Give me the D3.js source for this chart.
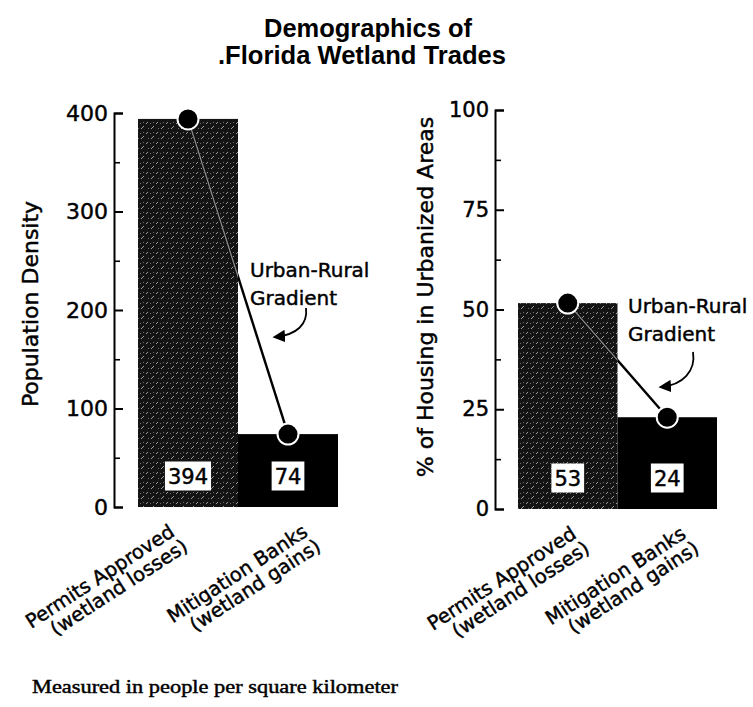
<!DOCTYPE html>
<html>
<head>
<meta charset="utf-8">
<script src="https://cdn.jsdelivr.net/npm/d3@7"></script>
<style>
  html, body { margin: 0; padding: 0; background: #fff; }
  svg { display: block; }
  .heavy { stroke: #000; stroke-width: 0.45px; paint-order: stroke; }
</style>
</head>
<body>
<script>
// ---------- DATA ----------
const titleLines = ["Demographics of", ".Florida Wetland Trades"];
const categoryLine1 = ["Permits Approved", "Mitigation Banks"];
const categoryLine2 = ["(wetland losses)", "(wetland gains)"];

const densityValues = [394, 74];          // bar heights (people / km²)
const densityLabels = ["394", "74"];
const densityTicks = [0, 100, 200, 300, 400];
const densityMinorTicks = [50, 150, 250, 350];

const housingValues = [51.6, 23];         // bar heights as drawn (%)
const housingLabels = ["53", "24"];       // printed values
const housingTicks = [0, 25, 50, 75, 100];
const housingMinorTicks = [12.5, 37.5, 62.5, 87.5];

const annotationLines = ["Urban-Rural", "Gradient"];
const footnote = "Measured in people per square kilometer";

// ---------- LAYOUT ----------
const W = 753, H = 707;
const svg = d3.select("body").append("svg").attr("width", W).attr("height", H);

const defs = svg.append("defs");
const pat = defs.append("pattern").attr("id", "tex")
  .attr("width", 10).attr("height", 10).attr("patternUnits", "userSpaceOnUse");
pat.append("rect").attr("width", 10).attr("height", 10).attr("fill", "#141414");
pat.append("path").attr("d", "M1,9 L4,6 M6,4 L8,2").attr("stroke", "#9c9c9c").attr("stroke-width", 1);
pat.append("path").attr("d", "M3,3 L4,2 M8,9 L9,8 M0,4 L1,3").attr("stroke", "#6e6e6e").attr("stroke-width", 1);

defs.append("marker").attr("id", "arrowhead")
  .attr("viewBox", "0 0 10 10").attr("refX", 8).attr("refY", 5)
  .attr("markerWidth", 7).attr("markerHeight", 7).attr("orient", "auto")
  .append("path").attr("d", "M0,0 L10,5 L0,10 Z").attr("fill", "#000");

// Title
const sans = "'DejaVu Sans', sans-serif";
svg.append("text").attr("x", 368).attr("y", 37).attr("text-anchor", "middle")
  .attr("font-family", "'Liberation Sans', Arial, sans-serif").attr("font-weight", "bold")
  .attr("font-size", 25).attr("textLength", 208).attr("lengthAdjust", "spacingAndGlyphs")
  .text(titleLines[0]);
svg.append("text").attr("x", 362).attr("y", 64).attr("text-anchor", "middle")
  .attr("font-family", "'Liberation Sans', Arial, sans-serif").attr("font-weight", "bold")
  .attr("font-size", 25).attr("textLength", 288).attr("lengthAdjust", "spacingAndGlyphs")
  .text(titleLines[1]);

const panels = [
  {
    values: densityValues, labels: densityLabels, domain: [0, 400],
    ticks: densityTicks, minor: densityMinorTicks,
    axisX: 114, xRange: [138, 338], yRange: [507, 113], tickFont: 22,
    yLabel: "Population Density", yLabelX: 38, yLabelY: 304,
    xLabelDx: [-12, 21],
    annot: { x: 250, y: 277, arrow: "M56,31 C58,47 47,58 25,60" }
  },
  {
    values: housingValues, labels: housingLabels, domain: [0, 100],
    ticks: housingTicks, minor: housingMinorTicks,
    axisX: 495, xRange: [518, 717], yRange: [509, 110], tickFont: 21,
    yLabel: "% of Housing in Urbanized Areas", yLabelX: 433, yLabelY: 297,
    xLabelDx: [10, 20],
    annot: { x: 628, y: 313, arrow: "M65,39 C68,58 55,72 33,74" }
  }
];

panels.forEach((p, pi) => {
  const g = svg.append("g");
  const y = d3.scaleLinear().domain(p.domain).range(p.yRange);
  const x = d3.scaleBand().domain(categoryLine1).range(p.xRange).padding(0);
  const bw = x.bandwidth();

  // Bars
  g.selectAll("rect.bar").data(p.values).join("rect").attr("class", "bar")
    .attr("x", (d, i) => x(categoryLine1[i]))
    .attr("y", d => y(d))
    .attr("width", bw)
    .attr("height", d => y(0) - y(d))
    .attr("fill", (d, i) => i === 0 ? "url(#tex)" : "#000");

  // clip for the line portion inside the textured bar
  const clipId = "clip" + pi;
  defs.append("clipPath").attr("id", clipId).append("rect")
    .attr("x", x(categoryLine1[0])).attr("y", y(p.values[0]))
    .attr("width", bw).attr("height", y(0) - y(p.values[0]));

  const pts = p.values.map((d, i) => [x(categoryLine1[i]) + bw / 2, y(d)]);
  const line = d3.line();
  g.append("path").attr("d", line(pts)).attr("fill", "none")
    .attr("stroke", "#000").attr("stroke-width", 2.4);
  g.append("path").attr("d", line(pts)).attr("fill", "none")
    .attr("stroke", "#8a8a8a").attr("stroke-width", 1.4)
    .attr("clip-path", `url(#${clipId})`);

  g.selectAll("circle.dot").data(pts).join("circle").attr("class", "dot")
    .attr("cx", d => d[0]).attr("cy", d => d[1]).attr("r", 10.5)
    .attr("fill", "#000").attr("stroke", "#fff").attr("stroke-width", 2);

  // Value labels in white boxes
  p.labels.forEach((lab, i) => {
    const cx = x(categoryLine1[i]) + bw / 2;
    const cy = y(0) - 31;
    const lg = g.append("g");
    const box = lg.append("rect").attr("fill", "#fff");
    const t = lg.append("text").attr("class", "heavy").attr("x", cx).attr("y", cy + 7.5)
      .attr("text-anchor", "middle").attr("font-family", sans)
      .attr("font-size", 21).attr("fill", "#000").text(lab);
    const bb = t.node().getBBox();
    box.attr("x", bb.x - 3).attr("y", cy - 14.5).attr("width", bb.width + 6).attr("height", 29);
  });

  // Axis (ticks pointing into plot)
  const axis = d3.axisLeft(y).tickValues(p.ticks).tickFormat(d3.format("d"))
    .tickSizeInner(-9).tickSizeOuter(-9).tickPadding(6);
  const ag = g.append("g").attr("transform", `translate(${p.axisX},0)`).call(axis);
  ag.select(".domain").attr("stroke", "#000").attr("stroke-width", 2);
  ag.selectAll(".tick line").attr("stroke", "#000").attr("stroke-width", 2);
  ag.selectAll(".tick text").attr("class", "heavy").attr("font-family", sans)
    .attr("font-size", p.tickFont).attr("fill", "#000");

  const minorAxis = d3.axisLeft(y).tickValues(p.minor).tickFormat("")
    .tickSizeInner(-6).tickSizeOuter(0);
  const mg = g.append("g").attr("transform", `translate(${p.axisX},0)`).call(minorAxis);
  mg.select(".domain").remove();
  mg.selectAll(".tick line").attr("stroke", "#000").attr("stroke-width", 1.6);

  // Y label
  g.append("text").attr("class", "heavy")
    .attr("transform", `translate(${p.yLabelX},${p.yLabelY}) rotate(-90)`)
    .attr("text-anchor", "middle").attr("font-family", sans).attr("font-size", 22)
    .attr("fill", "#000").text(p.yLabel);

  // X labels (rotated)
  categoryLine1.forEach((c, i) => {
    const ex = x(c) + bw / 2 + p.xLabelDx[i];
    const ey = y(0) + 28;
    const t = g.append("text").attr("class", "heavy")
      .attr("transform", `translate(${ex},${ey}) rotate(-33)`)
      .attr("text-anchor", "end").attr("font-family", sans).attr("font-size", 19.5)
      .attr("fill", "#000");
    t.append("tspan").attr("x", 0).attr("dy", 0).text(c);
    t.append("tspan").attr("x", 3).attr("dy", "1.0em").text(categoryLine2[i]);
  });

  // Annotation
  const an = g.append("g").attr("transform", `translate(${p.annot.x},${p.annot.y})`);
  an.append("text").attr("class", "heavy").attr("x", 0).attr("y", 0)
    .attr("font-family", sans).attr("font-size", 20)
    .attr("fill", "#000").text(annotationLines[0]);
  an.append("text").attr("class", "heavy").attr("x", 0).attr("y", 28)
    .attr("font-family", sans).attr("font-size", 20)
    .attr("fill", "#000").text(annotationLines[1]);
  an.append("path").attr("d", p.annot.arrow).attr("fill", "none")
    .attr("stroke", "#000").attr("stroke-width", 1.8).attr("marker-end", "url(#arrowhead)");
});

// Footnote
svg.append("text").attr("class", "heavy").attr("x", 32).attr("y", 693)
  .attr("font-family", "'Liberation Serif', 'Times New Roman', serif").attr("font-size", 19)
  .attr("textLength", 366).attr("lengthAdjust", "spacingAndGlyphs").attr("fill", "#000")
  .text(footnote);
</script>
</body>
</html>
